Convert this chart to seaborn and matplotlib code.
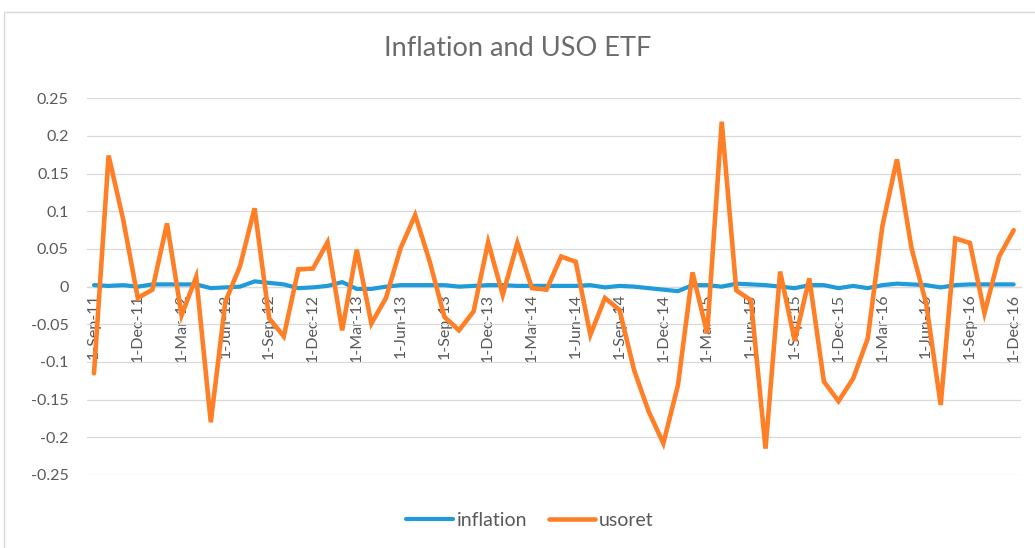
import numpy as np
import pandas as pd
import matplotlib
matplotlib.use("Agg")
import matplotlib.pyplot as plt
import seaborn as sns
from matplotlib.patches import Rectangle
from matplotlib.lines import Line2D

months = pd.date_range("2011-09-01", "2016-12-01", freq="MS")
month_labels = [f"1-{d.strftime('%b')}-{d.strftime('%y')}" for d in months]

inflation = [0.002, 0.001, 0.002, 0.000, 0.003, 0.003, 0.003, 0.003, -0.002, -0.001,
             0.000, 0.007, 0.005, 0.003, -0.002, -0.001, 0.001, 0.006, -0.003, -0.003,
             0.000, 0.002, 0.002, 0.002, 0.002, 0.000, 0.001, 0.002, 0.002, 0.001,
             0.001, 0.001, 0.001, 0.001, 0.002, -0.001, 0.001, 0.000, -0.002, -0.004,
             -0.006, 0.002, 0.002, 0.000, 0.004, 0.003, 0.002, 0.000, -0.002, 0.002,
             0.002, -0.002, 0.001, -0.002, 0.002, 0.004, 0.003, 0.002, -0.001, 0.002,
             0.003, 0.003, 0.003, 0.003]

usoret = [-0.115, 0.174, 0.089, -0.015, -0.004, 0.084, -0.038, 0.013, -0.180, -0.020,
          0.027, 0.104, -0.042, -0.066, 0.023, 0.024, 0.059, -0.058, 0.049, -0.049,
          -0.015, 0.051, 0.095, 0.033, -0.040, -0.058, -0.033, 0.059, -0.011, 0.058,
          -0.002, -0.004, 0.040, 0.033, -0.064, -0.015, -0.031, -0.111, -0.166, -0.208,
          -0.131, 0.019, -0.062, 0.219, -0.005, -0.018, -0.215, 0.020, -0.072, 0.011,
          -0.126, -0.152, -0.122, -0.069, 0.080, 0.169, 0.051, -0.022, -0.157, 0.064,
          0.058, -0.035, 0.040, 0.075]

y_ticks = [0.25, 0.2, 0.15, 0.1, 0.05, 0, -0.05, -0.1, -0.15, -0.2, -0.25]
y_tick_labels = ["0.25", "0.2", "0.15", "0.1", "0.05", "0", "-0.05", "-0.1", "-0.15", "-0.2", "-0.25"]

df = pd.DataFrame({"idx": np.arange(len(months)), "inflation": inflation, "usoret": usoret})
long = df.melt(id_vars="idx", var_name="series", value_name="value")

sns.set_style("white")
plt.rcParams["font.family"] = ["Lato", "DejaVu Sans"]

W, H = 1035, 548
fig = plt.figure(figsize=(W / 100, H / 100), dpi=100)
left, right = 86.7 / W, 1021 / W
top, bottom = 1 - 98.3 / H, 1 - 475 / H
ax = fig.add_axes([left, bottom, right - left, top - bottom])

palette = {"inflation": "#1F9BD9", "usoret": "#FF7F27"}
sns.lineplot(data=long, x="idx", y="value", hue="series", palette=palette,
             ax=ax, legend=False, sort=False)
lw = {"inflation": 3.0, "usoret": 3.3}
for line, name in zip(ax.get_lines(), ["inflation", "usoret"]):
    line.set_linewidth(lw[name])
    line.set_solid_joinstyle("miter")
ax.get_lines()[1].set_zorder(3)
ax.get_lines()[0].set_zorder(2.5)

for s in ["top", "right", "left"]:
    ax.spines[s].set_visible(False)
ax.spines["bottom"].set_position(("data", 0))
ax.spines["bottom"].set_color("#D9D9D9")
ax.spines["bottom"].set_linewidth(0.9)
ax.spines["bottom"].set_zorder(1)

ax.set_xlim(-0.5, len(months) - 0.5)
ax.set_ylim(-0.25, 0.25)
ax.set_yticks(y_ticks)
ax.set_yticklabels(y_tick_labels)
tick_idx = list(range(0, len(months), 3))
ax.set_xticks(tick_idx)
ax.set_xticklabels([month_labels[i] for i in tick_idx])
for t in ax.get_xticklabels():
    t.set_rotation(90)
    t.set_ha("center")
    t.set_va("top")

ax.grid(axis="y", color="#D9D9D9", linewidth=0.9, zorder=0)
ax.set_axisbelow(True)
ax.tick_params(axis="x", length=0, pad=5, labelsize=11.5, labelcolor="#595959")
ax.tick_params(axis="y", length=0, pad=13, labelsize=11.5, labelcolor="#595959")
ax.set_xlabel("")
ax.set_ylabel("")

fig.text(518 / W, 1 - 48 / H, "Inflation and USO ETF", ha="center", va="center",
         fontsize=19.5, color="#6B6B6B")

handles = [Line2D([], [], color=palette["inflation"], lw=3.0, solid_capstyle="round"),
           Line2D([], [], color=palette["usoret"], lw=3.3, solid_capstyle="round")]
leg = fig.legend(handles, ["inflation", "usoret"], loc="center", bbox_to_anchor=(530 / W, 1 - 520 / H),
                 ncol=2, frameon=False, fontsize=14, handlelength=2.4, handletextpad=0.2,
                 columnspacing=1.1)
for t in leg.get_texts():
    t.set_color("#595959")

fig.patches.append(Rectangle((4 / W, -0.05), 1.1, 1.05 - 12 / H, transform=fig.transFigure,
                             fill=False, edgecolor="#D9D9D9", linewidth=1.0))

fig.savefig("out.png", dpi=100, facecolor="white")
